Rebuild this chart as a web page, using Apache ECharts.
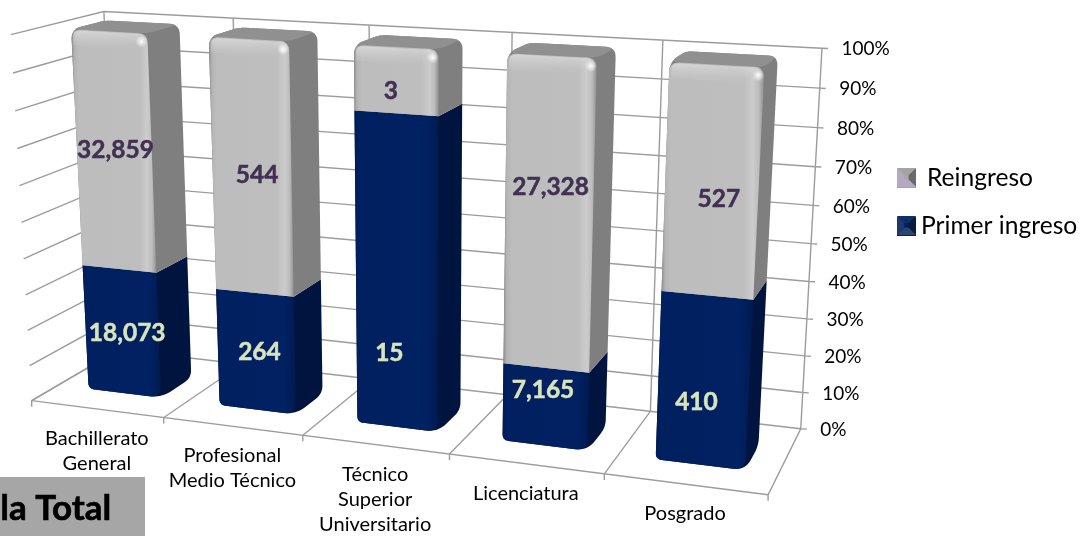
<!DOCTYPE html>
<html>
<head>
<meta charset="utf-8">
<style>html,body{margin:0;padding:0;background:#fff}#main{width:1087px;height:536px}</style>
<script src="https://cdn.jsdelivr.net/npm/echarts@6/dist/echarts.min.js"></script>
</head>
<body>
<div id="main"></div>
<script>
const categories = ['Bachillerato\nGeneral', 'Profesional\nMedio Técnico', 'Técnico\nSuperior\nUniversitario', 'Licenciatura', 'Posgrado'];
const primerIngreso = [18073, 264, 15, 7165, 410];
const reingreso = [32859, 544, 3, 27328, 527];
const yTicks = [0, 10, 20, 30, 40, 50, 60, 70, 80, 90, 100];
const yTickLabels = ['0%', '10%', '20%', '30%', '40%', '50%', '60%', '70%', '80%', '90%', '100%'];
const FONT = 'Lato, "Open Sans", sans-serif';
// hand-placed data label nudges in the reference (px)
const primerLabelNudge = [[2,1],[0,0],[-11,79],[-6,-17],[-11,21]];
const reingresoLabelNudge = [[-2,-2],[2,7],[-9,11],[-2,-28],[3,17]];

// Perspective camera: fitted to the chart box corners. (u along categories, v height, w depth)
const CAL = [
  [0,0,0,32,399],[.2,0,0,163,418],[.4,0,0,303,436],[.6,0,0,449,454],[.8,0,0,605,474],[1,0,0,768,495],
  [0,0,1,119,351],[.8,0,1,650,411],[1,0,1,801,428],
  [0,1,1,104,11],[.2,1,1,233,18],[.4,1,1,369,25],[.6,1,1,512,32],[.8,1,1,663,40],[1,1,1,822,49],
  [0,1,0,11,35]
];
function fitCamera(c){
  const A=[],b=[];
  c.forEach(([u,v,w,x,y])=>{
    A.push([u,v,w,1,0,0,0,0,-x*u,-x*v,-x*w]);b.push(x);
    A.push([0,0,0,0,u,v,w,1,-y*u,-y*v,-y*w]);b.push(y);
  });
  const n=11,M=[];
  for(let i=0;i<n;i++){M.push(new Array(n+1).fill(0));
    for(let j=0;j<n;j++)for(let k=0;k<A.length;k++)M[i][j]+=A[k][i]*A[k][j];
    for(let k=0;k<A.length;k++)M[i][n]+=A[k][i]*b[k];}
  for(let i=0;i<n;i++){let p=i;for(let r=i+1;r<n;r++)if(Math.abs(M[r][i])>Math.abs(M[p][i]))p=r;
    [M[i],M[p]]=[M[p],M[i]];
    for(let r=0;r<n;r++){if(r===i)continue;const f=M[r][i]/M[i][i];for(let j=i;j<=n;j++)M[r][j]-=f*M[i][j];}}
  return M.map((r,i)=>r[n]/r[i]);
}
const P=fitCamera(CAL);
function proj(u,v,w){
  const d=P[8]*u+P[9]*v+P[10]*w+1;
  return [(P[0]*u+P[1]*v+P[2]*w+P[3])/d,(P[4]*u+P[5]*v+P[6]*w+P[7])/d];
}
function rounded(pts,radii){
  const out=[],n=pts.length;
  for(let i=0;i<n;i++){
    const p=pts[i],r=radii[i]||0;
    if(!r){out.push(p);continue;}
    const a=pts[(i+n-1)%n],b=pts[(i+1)%n];
    const la=Math.hypot(a[0]-p[0],a[1]-p[1]),lb=Math.hypot(b[0]-p[0],b[1]-p[1]);
    const s=[p[0]+(a[0]-p[0])*Math.min(r/la,.5),p[1]+(a[1]-p[1])*Math.min(r/la,.5)];
    const e=[p[0]+(b[0]-p[0])*Math.min(r/lb,.5),p[1]+(b[1]-p[1])*Math.min(r/lb,.5)];
    for(let t=0;t<=8;t++){const q=t/8,m=1-q;
      out.push([m*m*s[0]+2*m*q*p[0]+q*q*e[0],m*m*s[1]+2*m*q*p[1]+q*q*e[1]]);}
  }
  return out;
}
const BAR=0.56, W0=0.29, W1=0.665;
const GRID_COLOR='#9c9c9c';
const hg=(stops)=>new echarts.graphic.LinearGradient(0,0,1,0,stops.map(s=>({offset:s[0],color:s[1]})));
const vg=(stops)=>new echarts.graphic.LinearGradient(0,0,0,1,stops.map(s=>({offset:s[0],color:s[1]})));

function normal(api,cs,cat,val){
  const p=api.coord([cat,val]);
  return [(p[0]-cs.x)/cs.width,1-(p[1]-cs.y)/cs.height];
}
function barRender(kind){
  return function(params,api){
    const cs=params.coordSys,cat=api.value(0),lo=api.value(1),hi=api.value(2),raw=api.value(3);
    const [uc,vl]=normal(api,cs,cat,lo);const vh=normal(api,cs,cat,hi)[1];
    const hw=api.size([1,0])[0]/cs.width*BAR/2;
    const u0=uc-hw+0.0035,u1=uc+hw+0.0035;
    const Fbl=proj(u0,vl,W0),Fbr=proj(u1,vl,W0),Ftl=proj(u0,vh,W0),Ftr=proj(u1,vh,W0);
    const Bbr=proj(u1,vl,W1),Btr=proj(u1,vh,W1),Btl=proj(u0,vh,W1);
    const ch=[];
    if(kind==='top'){
      ch.push({type:'polygon',shape:{points:rounded([Fbl,Ftl,Btl,Btr,Bbr,Fbr],[0,10,6,10,0,0])},style:{fill:'#7f7f7f'}});
      ch.push({type:'polygon',shape:{points:rounded([Ftl,Btl,Btr,Ftr],[10,6,10,8])},style:{fill:'#909090'}});
      ch.push({type:'polygon',shape:{points:rounded([Fbl,Ftl,Ftr,Fbr],[0,10,10,0])},
        style:{fill:hg([[0,'#8d8d8d'],[.035,'#b4b4b4'],[.09,'#bdbdbd'],[.8,'#bebebe'],[.89,'#cccccc'],[.95,'#bcbcbc'],[1,'#8f8f8f']])}});
      const tl=[Ftl[0]+2,Ftl[1]+1],tr=[Ftr[0]-2,Ftr[1]+1],bl=[Ftl[0]+2,Ftl[1]+16],br=[Ftr[0]-2,Ftr[1]+17];
      ch.push({type:'polygon',shape:{points:rounded([bl,tl,tr,br],[0,8,8,0])},
        style:{fill:vg([[0,'rgba(225,225,225,0.7)'],[1,'rgba(200,200,200,0)']])}});
      ch.push({type:'circle',shape:{cx:Ftr[0]-6,cy:Ftr[1]+8,r:6},
        style:{fill:new echarts.graphic.RadialGradient(.5,.5,.5,[{offset:0,color:'rgba(255,255,255,.95)'},{offset:1,color:'rgba(255,255,255,0)'}])}});
    } else {
      ch.push({type:'polygon',shape:{points:rounded([Ftl,Fbl,Fbr,Bbr,Btr,Ftr],[0,6,12,8,0,0])},style:{fill:'#001440'}});
      ch.push({type:'polygon',shape:{points:rounded([Ftl,Fbl,Fbr,Ftr],[0,6,12,0])},
        style:{fill:hg([[0,'#001c55'],[.05,'#002060'],[.85,'#002162'],[.95,'#001d58'],[1,'#001a4e']])}});
    }
    const c=proj(uc+hw*.15,(vl+vh)/2,W0);
    const nudge=(kind==='top'?reingresoLabelNudge:primerLabelNudge)[cat];
    const col=kind==='top'?'#403152':'#d8e4bc';
    ch.push({type:'text',style:{x:c[0]+nudge[0],y:c[1]+nudge[1],text:raw.toLocaleString('en-US'),align:'center',verticalAlign:'middle',
      fill:col,stroke:col,lineWidth:.5,font:'700 24.5px '+FONT}});
    return {type:'group',children:ch};
  };
}
function gridRender(params,api){
  const cs=params.coordSys,t=api.value(0);
  const v=normal(api,cs,0,t)[1];
  const a=proj(0,v,0),b=proj(0,v,1),c=proj(1,v,1);
  const lineStyle={stroke:GRID_COLOR,lineWidth:1.4,fill:null};
  return {type:'group',children:[
    {type:'polyline',shape:{points:[a,b,c,[c[0]+6,c[1]+.3]]},style:lineStyle},
    {type:'text',style:{x:c[0]+19.5,y:c[1]+1,text:yTickLabels[params.dataIndex],align:'left',verticalAlign:'middle',fill:'#000',font:'19px '+FONT}}
  ]};
}
function dividerRender(params,api){
  const cs=params.coordSys,i=api.value(0);
  const hw=api.size([1,0])[0]/cs.width/2;
  const u=normal(api,cs,i,0)[0]-hw;
  const t=proj(u,1,1),m=proj(u,0,1),f=proj(u,0,0);
  const st={stroke:GRID_COLOR,lineWidth:1.4,fill:null};
  return {type:'group',children:[{type:'polyline',shape:{points:[t,m,f,[f[0],f[1]+6]]},style:st}]};
}
function floorRender(params,api){
  const st={stroke:GRID_COLOR,lineWidth:1.4,fill:null};
  return {type:'group',children:[{type:'line',shape:{x1:proj(0,0,0)[0],y1:proj(0,0,0)[1],x2:proj(1,0,0)[0],y2:proj(1,0,0)[1]},style:st}]};
}
function catLabelRender(params,api){
  const cs=params.coordSys,i=api.value(0);
  const uc=normal(api,cs,i,0)[0];
  const p=proj(uc,0,0);
  return {type:'text',style:{x:p[0],y:p[1]+17,text:categories[i],align:'center',verticalAlign:'top',fill:'#000',font:'20px '+FONT,lineHeight:25}};
}
const idx=categories.map((_,i)=>i);
const share=(a,b)=>a/(a+b)*100;
const primerData=idx.map(i=>[i,0,share(primerIngreso[i],reingreso[i]),primerIngreso[i]]);
const reData=idx.map(i=>[i,share(primerIngreso[i],reingreso[i]),100,reingreso[i]]);
function bevel(x,y,s,cols){
  const a=[x,y],b=[x+s,y],d=[x+s,y+s],e=[x,y+s];
  const ins=s*.4,ci=[[x+ins,y+ins],[x+s-ins,y+ins],[x+s-ins,y+s-ins],[x+ins,y+s-ins]];
  return [[a,b,ci[1],ci[0]],[b,d,ci[2],ci[1]],[d,e,ci[3],ci[2]],[e,a,ci[0],ci[3]],ci].map((pts,i)=>({
    type:'polygon',z:20,shape:{points:pts},style:{fill:cols[i]}}));
}
const chart=echarts.init(document.getElementById('main'),null,{renderer:'canvas'});
chart.setOption({
  animation:false,
  backgroundColor:'#fff',
  grid:{left:100,right:260,top:40,bottom:100,show:false},
  xAxis:{type:'category',data:categories,show:false},
  yAxis:{type:'value',min:0,max:100,interval:10,show:false},
  legend:{orient:'vertical',left:897,top:166,padding:0,itemWidth:19,itemHeight:19,itemGap:23,selectedMode:false,icon:'rect',
    textStyle:{fontFamily:FONT,fontSize:24.6,color:'#000'},
    data:[{name:'Reingreso',textStyle:{padding:[0,0,0,6]}},{name:'Primer ingreso'}]},
  graphic:[
    {type:'rect',left:0,top:477,shape:{width:145,height:59},style:{fill:'#a6a6a6'},z:10},
    {type:'text',left:0,top:491,style:{text:'la Total',fill:'#000',stroke:'#000',lineWidth:.6,font:'700 35px '+FONT},z:11},
    ...bevel(897,168,19,['#a3a3a3','#6a6a6a','#b3a9c4','#b3a9c4','#a9a9a9']),
    ...bevel(897,216,19,['#0f2e66','#0a1a38','#2a4670','#1c3a6c','#00205f'])
  ],
  series:[
    {type:'custom',name:'floor',silent:true,renderItem:floorRender,data:[[0]],encode:{x:0},z:1},
    {type:'custom',name:'grid',silent:true,renderItem:gridRender,data:yTicks.map(t=>[t]),encode:{y:0},z:1},
    {type:'custom',name:'dividers',silent:true,renderItem:dividerRender,data:[0,1,2,3,4,5].map(i=>[i]),encode:{x:0},z:1},
    {type:'custom',name:'labels',silent:true,renderItem:catLabelRender,data:idx.map(i=>[i]),encode:{x:0},z:2},
    {type:'custom',name:'Primer ingreso',renderItem:barRender('bottom'),data:primerData,encode:{x:0,y:[1,2]},itemStyle:{color:'#002060'},z:3},
    {type:'custom',name:'Reingreso',renderItem:barRender('top'),data:reData,encode:{x:0,y:[1,2]},itemStyle:{color:'#a6a6a6'},z:3}
  ]
});
</script>
</body>
</html>
